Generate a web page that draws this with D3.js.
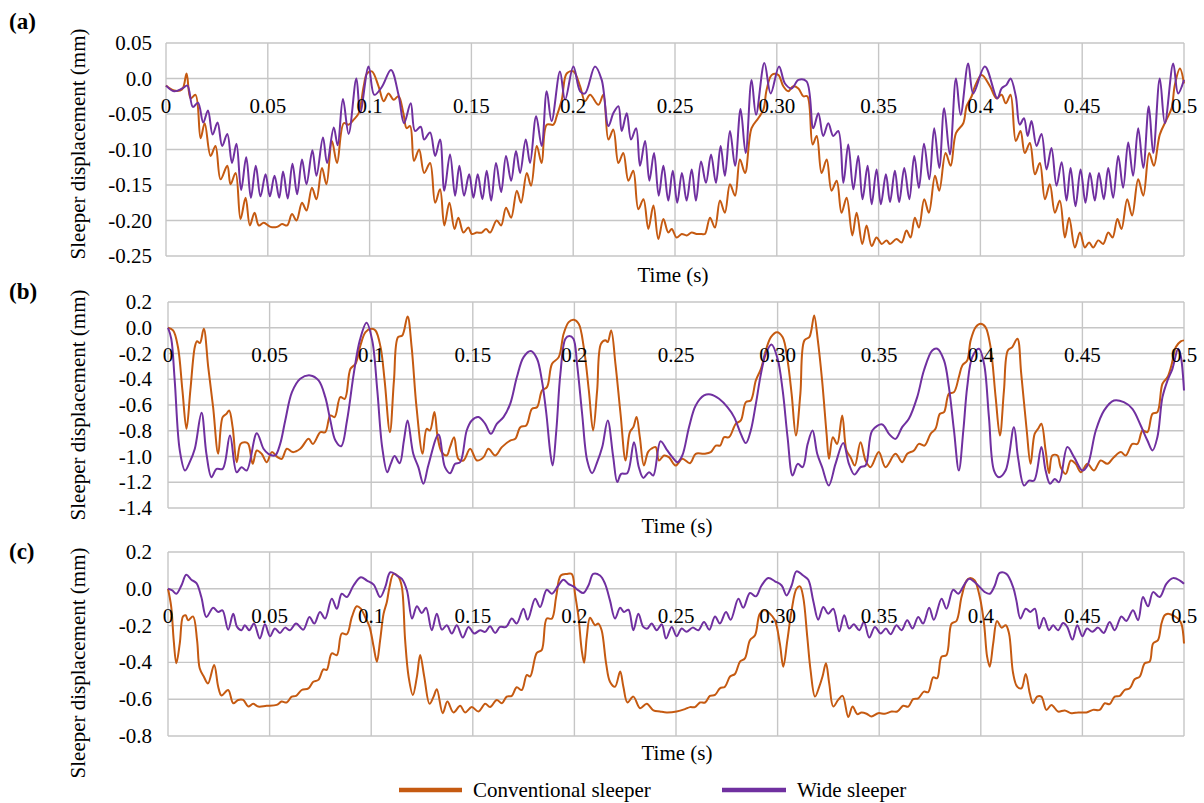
<!DOCTYPE html>
<html>
<head>
<meta charset="utf-8">
<script src="https://cdn.jsdelivr.net/npm/d3@7"></script>
<style>
  html, body { margin: 0; padding: 0; background: #ffffff; }
  svg { display: block; }
</style>
</head>
<body>
<svg id="chart" width="1204" height="803"></svg>
<script>
// ---------------- DATA (time in s, displacement in mm) ----------------
const seriesNames = ["Conventional sleeper", "Wide sleeper"];
const xTicks = [0, 0.05, 0.1, 0.15, 0.2, 0.25, 0.3, 0.35, 0.4, 0.45, 0.5];
const xTickLabels = ["0", "0.05", "0.1", "0.15", "0.2", "0.25", "0.30", "0.35", "0.4", "0.45", "0.5"];

const yTicksA = [0.05, 0, -0.05, -0.10, -0.15, -0.20, -0.25];
const yLabelsA = ["0.05", "0.0", "-0.05", "-0.10", "-0.15", "-0.20", "-0.25"];
const yTicksB = [0.2, 0, -0.2, -0.4, -0.6, -0.8, -1.0, -1.2, -1.4];
const yLabelsB = ["0.2", "0.0", "-0.2", "-0.4", "-0.6", "-0.8", "-1.0", "-1.2", "-1.4"];
const yTicksC = [0.2, 0, -0.2, -0.4, -0.6, -0.8];
const yLabelsC = ["0.2", "0.0", "-0.2", "-0.4", "-0.6", "-0.8"];

const convA = [[0,-0.010],[0.004,-0.017],[0.008,-0.015],[0.0101,0.007],[0.0121,-0.028],[0.0145,-0.023],[0.0170,-0.084],[0.0190,-0.063],[0.0219,-0.109],[0.0243,-0.095],[0.0268,-0.142],[0.0301,-0.123],[0.0317,-0.149],[0.0342,-0.133],[0.0366,-0.198],[0.0391,-0.168],[0.0412,-0.207],[0.0435,-0.189],[0.0456,-0.207],[0.0480,-0.203],[0.0513,-0.209],[0.0546,-0.209],[0.0570,-0.205],[0.0595,-0.207],[0.0619,-0.191],[0.0641,-0.200],[0.0668,-0.175],[0.0690,-0.186],[0.0717,-0.154],[0.0739,-0.170],[0.0766,-0.126],[0.0788,-0.149],[0.0815,-0.088],[0.0840,-0.119],[0.0873,-0.063],[0.0897,-0.065],[0.0922,-0.058],[0.0946,-0.049],[0.0971,-0.011],[0.0987,0.007],[0.1011,0.010],[0.1044,-0.011],[0.1069,-0.032],[0.1093,-0.021],[0.1118,-0.030],[0.1142,-0.025],
[0.1166,-0.049],[0.1182,-0.070],[0.1199,-0.067],[0.1218,-0.116],[0.1243,-0.100],[0.1268,-0.133],[0.1297,-0.119],[0.1322,-0.175],[0.1346,-0.156],[0.1367,-0.207],[0.1392,-0.175],[0.1417,-0.212],[0.1436,-0.196],[0.1461,-0.217],[0.1485,-0.210],[0.1502,-0.219],[0.1526,-0.217],[0.1551,-0.217],[0.1572,-0.212],[0.1592,-0.217],[0.1624,-0.200],[0.1646,-0.207],[0.1670,-0.182],[0.1695,-0.196],[0.1723,-0.158],[0.1744,-0.175],[0.1772,-0.133],[0.1793,-0.151],[0.1821,-0.095],[0.1845,-0.119],[0.1870,-0.065],[0.1903,-0.065],[0.1919,-0.053],[0.1944,-0.030],[0.1968,0.007],[0.2001,0.010],[0.2034,-0.011],[0.2058,-0.032],[0.2083,-0.023],[0.2124,-0.037],[0.2148,-0.023],[0.2173,-0.086],[0.2197,-0.072],[0.2222,-0.119],[0.2246,-0.105],[0.2271,-0.144],[0.2295,-0.130],[0.2320,-0.184],[0.2345,-0.170],[0.2369,-0.212],[0.2394,-0.179],[0.2418,-0.226],[0.2443,-0.198],[0.2467,-0.217],[0.2484,-0.212],[0.2508,-0.224],[0.2533,-0.219],[0.2557,-0.221],[0.2582,-0.217],[0.2606,-0.219],[0.2631,-0.219],[0.2647,-0.219],[0.2672,-0.196],[0.2696,-0.210],[0.2721,-0.172],[0.2745,-0.189],[0.2770,-0.149],[0.2795,-0.165],[0.2819,-0.114],[0.2844,-0.133],[0.2876,-0.070],[0.2909,-0.056],[0.2934,-0.044],[0.2950,-0.016],[0.2975,0.005],[0.3007,0.005],[0.3032,-0.011],[0.3056,-0.018],[0.3081,-0.011],[0.3106,-0.014],[0.3130,-0.025],[0.3150,-0.025],
[0.3176,-0.093],[0.3196,-0.081],[0.3220,-0.133],[0.3245,-0.114],[0.3269,-0.158],[0.3294,-0.144],[0.3318,-0.189],[0.3343,-0.168],[0.3371,-0.221],[0.3392,-0.189],[0.3420,-0.233],[0.3441,-0.207],[0.3466,-0.236],[0.3490,-0.224],[0.3515,-0.233],[0.3539,-0.228],[0.3556,-0.233],[0.3588,-0.226],[0.3613,-0.231],[0.3637,-0.214],[0.3657,-0.224],[0.3678,-0.196],[0.3698,-0.210],[0.3724,-0.170],[0.3747,-0.189],[0.3777,-0.137],[0.3798,-0.158],[0.3829,-0.105],[0.3854,-0.123],[0.3880,-0.077],[0.3916,-0.063],[0.3932,-0.039],[0.3957,-0.025],[0.3973,-0.011],[0.4006,0.005],[0.4047,-0.011],[0.4079,-0.028],[0.4104,-0.023],[0.4125,-0.035],[0.4148,-0.023],[0.4174,-0.088],[0.4197,-0.074],[0.4218,-0.105],[0.4243,-0.091],[0.4268,-0.135],[0.4292,-0.119],[0.4317,-0.170],[0.4341,-0.149],[0.4366,-0.189],[0.4390,-0.172],[0.4415,-0.224],[0.4436,-0.196],[0.4464,-0.238],[0.4489,-0.217],[0.4513,-0.238],[0.4534,-0.231],[0.4554,-0.238],[0.4579,-0.228],[0.4603,-0.233],[0.4628,-0.217],[0.4649,-0.224],[0.4673,-0.198],[0.4693,-0.212],[0.4721,-0.170],[0.4745,-0.193],[0.4775,-0.142],[0.4800,-0.165],[0.4829,-0.105],[0.4852,-0.123],[0.4881,-0.079],[0.4914,-0.058],[0.4939,-0.042],[0.4955,-0.009],[0.4980,0.014],[0.5,-0.007]];

const wideA = [[0,-0.010],[0.004,-0.018],[0.008,-0.014],[0.0105,-0.010],[0.0132,-0.040],[0.0157,-0.034],[0.0183,-0.062],[0.0206,-0.045],[0.0229,-0.079],[0.0253,-0.062],[0.0276,-0.095],[0.0301,-0.078],[0.0324,-0.119],[0.0346,-0.092],[0.0369,-0.157],[0.0394,-0.111],[0.0417,-0.168],[0.0441,-0.123],[0.0464,-0.166],[0.0489,-0.135],[0.0510,-0.166],[0.0533,-0.137],[0.0556,-0.168],[0.0575,-0.131],[0.0598,-0.169],[0.0621,-0.120],[0.0644,-0.163],[0.0668,-0.114],[0.0690,-0.149],[0.0719,-0.101],[0.0739,-0.137],[0.0771,-0.083],[0.0791,-0.119],[0.0824,-0.069],[0.0843,-0.094],[0.0869,-0.029],[0.0897,-0.078],[0.0935,0.000],[0.0954,-0.048],[0.0995,0.017],[0.1023,-0.023],[0.106,-0.012],[0.1105,0.012],[0.1142,-0.023],
[0.1169,-0.063],[0.1202,-0.035],[0.1223,-0.074],[0.1251,-0.068],[0.1268,-0.086],[0.1297,-0.076],[0.1322,-0.109],[0.1346,-0.086],[0.1367,-0.158],[0.1395,-0.107],[0.1420,-0.165],[0.1441,-0.123],[0.1464,-0.165],[0.1489,-0.135],[0.1510,-0.168],[0.1531,-0.135],[0.1554,-0.170],[0.1575,-0.130],[0.1597,-0.172],[0.1621,-0.119],[0.1646,-0.160],[0.1670,-0.109],[0.1695,-0.144],[0.1719,-0.102],[0.1739,-0.133],[0.1767,-0.086],[0.1788,-0.119],[0.1818,-0.053],[0.1845,-0.095],[0.1870,-0.018],[0.1894,-0.060],[0.1935,0.010],[0.1960,-0.030],[0.2001,0.017],[0.2034,-0.018],[0.2058,-0.021],[0.2107,0.017],[0.2140,-0.002],[0.2173,-0.067],[0.2197,-0.049],[0.2222,-0.039],[0.2238,-0.074],[0.2263,-0.049],[0.2284,-0.086],[0.2309,-0.070],[0.2328,-0.123],[0.2353,-0.088],[0.2374,-0.144],[0.2397,-0.105],[0.2420,-0.165],[0.2443,-0.123],[0.2467,-0.172],[0.2489,-0.130],[0.2511,-0.175],[0.2534,-0.133],[0.2557,-0.172],[0.2582,-0.128],[0.2603,-0.172],[0.2628,-0.117],[0.2652,-0.147],[0.2677,-0.107],[0.2701,-0.147],[0.2724,-0.095],[0.2745,-0.137],[0.2770,-0.074],[0.2795,-0.123],[0.2822,-0.043],[0.2847,-0.105],[0.2876,-0.002],[0.2898,-0.051],[0.2939,0.022],[0.2970,-0.021],[0.3011,0.017],[0.3040,-0.007],[0.3073,-0.014],[0.3106,-0.002],[0.3146,-0.004],
[0.3179,-0.070],[0.3204,-0.049],[0.3228,-0.081],[0.3253,-0.063],[0.3277,-0.081],[0.3302,-0.074],[0.3327,-0.147],[0.3351,-0.093],[0.3376,-0.156],[0.3400,-0.109],[0.3421,-0.170],[0.3446,-0.123],[0.3466,-0.177],[0.3490,-0.128],[0.3511,-0.177],[0.3536,-0.135],[0.3556,-0.174],[0.3580,-0.130],[0.3601,-0.174],[0.3626,-0.126],[0.3651,-0.170],[0.3675,-0.109],[0.3698,-0.154],[0.3723,-0.092],[0.3749,-0.142],[0.3773,-0.070],[0.3798,-0.126],[0.3822,-0.042],[0.3850,-0.107],[0.3880,0.000],[0.3903,-0.051],[0.3940,0.021],[0.3965,-0.021],[0.4022,0.017],[0.4083,-0.028],[0.4104,-0.014],[0.4128,-0.009],[0.4148,0.000],[0.4174,-0.025],[0.4193,-0.065],[0.4214,-0.056],[0.4232,-0.081],[0.4251,-0.060],[0.4276,-0.095],[0.4300,-0.078],[0.4325,-0.128],[0.4349,-0.098],[0.4374,-0.151],[0.4399,-0.118],[0.4423,-0.172],[0.4443,-0.126],[0.4467,-0.180],[0.4492,-0.128],[0.4516,-0.175],[0.4538,-0.133],[0.4562,-0.172],[0.4582,-0.133],[0.4606,-0.170],[0.4628,-0.126],[0.4652,-0.168],[0.4677,-0.109],[0.4701,-0.154],[0.4726,-0.090],[0.4750,-0.137],[0.4775,-0.070],[0.4800,-0.126],[0.4827,-0.039],[0.4849,-0.105],[0.4881,0.000],[0.4906,-0.063],[0.4947,0.021],[0.4971,-0.021],[0.5,-0.002]];

const convB = [[0,0.0],[0.0025,-0.02],[0.0049,-0.15],[0.0071,-0.487],[0.0091,-0.785],[0.0110,-0.487],[0.0132,-0.15],[0.0143,-0.104],[0.0157,-0.119],[0.0176,-0.008],[0.0198,-0.306],[0.0222,-0.617],[0.0247,-0.979],[0.0269,-0.694],[0.0288,-0.668],[0.0301,-0.642],[0.0318,-0.772],[0.0338,-1.044],[0.0357,-0.902],[0.0379,-0.889],[0.0395,-0.902],[0.0417,-1.057],[0.0437,-0.953],[0.0461,-0.979],[0.0486,-1.044],[0.0511,-0.966],[0.0539,-1.005],[0.0560,-1.018],[0.0585,-0.940],[0.0614,-0.966],[0.0651,-0.940],[0.0692,-0.863],[0.0713,-0.902],[0.0750,-0.811],[0.0774,-0.811],[0.0799,-0.681],[0.0820,-0.694],[0.0848,-0.539],[0.0870,-0.552],[0.0898,-0.319],[0.0923,-0.280],[0.0947,-0.137],[0.0972,-0.034],[0.1000,-0.008],[0.1021,-0.021],[0.1046,-0.150],[0.1066,-0.409],[0.1092,-0.811],[0.1112,-0.409],[0.1132,-0.073],[0.1153,-0.060],[0.1179,0.088],
[0.1199,-0.150],[0.1223,-0.617],[0.1253,-0.979],[0.1273,-0.785],[0.1289,-0.798],[0.1311,-0.655],[0.1327,-0.850],[0.1347,-0.966],[0.1372,-0.992],[0.1388,-0.927],[0.1408,-0.850],[0.1429,-1.018],[0.1454,-1.031],[0.1487,-0.940],[0.1520,-1.031],[0.1553,-1.005],[0.1577,-0.940],[0.1610,-0.992],[0.1643,-0.927],[0.1684,-0.876],[0.1709,-0.863],[0.1734,-0.772],[0.1763,-0.759],[0.1791,-0.630],[0.1816,-0.617],[0.1841,-0.487],[0.1865,-0.461],[0.1890,-0.280],[0.1923,-0.228],[0.1947,-0.047],[0.1972,0.044],[0.1997,0.062],[0.2021,0.031],[0.2046,-0.150],[0.2071,-0.487],[0.2092,-0.798],[0.2112,-0.487],[0.2131,-0.124],[0.2153,-0.098],[0.2164,-0.111],[0.2181,-0.021],[0.2202,-0.280],[0.2227,-0.668],[0.2252,-1.031],[0.2273,-0.811],[0.2290,-0.772],[0.2306,-0.694],[0.2322,-0.850],[0.2342,-1.070],[0.2362,-0.966],[0.2378,-0.940],[0.2400,-0.927],[0.2416,-1.031],[0.2441,-0.992],[0.2465,-1.005],[0.2498,-1.070],[0.2531,-1.018],[0.2569,-1.052],[0.2597,-0.979],[0.2638,-0.979],[0.2671,-0.966],[0.2696,-0.915],[0.2717,-0.915],[0.2737,-0.850],[0.2761,-0.850],[0.2794,-0.746],[0.2819,-0.720],[0.2844,-0.578],[0.2868,-0.565],[0.2893,-0.409],[0.2918,-0.319],[0.2942,-0.176],[0.2967,-0.073],[0.2997,-0.034],[0.3025,-0.073],[0.3049,-0.254],[0.3069,-0.513],[0.3090,-0.837],[0.3112,-0.513],[0.3132,-0.098],[0.3156,-0.073],[0.3166,-0.020],[0.3180,0.096],
[0.3198,-0.098],[0.3219,-0.409],[0.3241,-0.824],[0.3253,-1.018],[0.3272,-0.850],[0.3293,-0.902],[0.3318,-0.681],[0.3339,-0.953],[0.3359,-1.005],[0.3380,-1.070],[0.3408,-0.889],[0.3433,-1.031],[0.3457,-1.083],[0.3498,-0.966],[0.3531,-1.083],[0.3580,-0.979],[0.3613,-1.044],[0.3638,-0.979],[0.3671,-0.953],[0.3695,-0.902],[0.3723,-0.915],[0.3753,-0.824],[0.3777,-0.785],[0.3799,-0.668],[0.3819,-0.655],[0.3843,-0.513],[0.3868,-0.500],[0.3892,-0.383],[0.3909,-0.293],[0.3933,-0.254],[0.3950,-0.098],[0.3975,0.005],[0.3999,0.031],[0.4023,0.005],[0.4048,-0.150],[0.4073,-0.539],[0.4094,-0.837],[0.4114,-0.487],[0.4133,-0.176],[0.4155,-0.150],[0.4180,-0.085],[0.4199,-0.358],[0.4226,-0.798],[0.4245,-1.057],[0.4265,-0.824],[0.4282,-0.785],[0.4298,-0.746],[0.4319,-0.953],[0.4336,-1.130],[0.4352,-0.992],[0.4377,-0.992],[0.4393,-1.083],[0.4418,-1.135],[0.4443,-1.031],[0.4467,-1.057],[0.4492,-1.122],[0.4525,-1.057],[0.4557,-1.109],[0.4590,-1.031],[0.4623,-1.057],[0.4655,-1.005],[0.4689,-0.966],[0.4713,-0.992],[0.4746,-0.902],[0.4771,-0.902],[0.4796,-0.798],[0.4820,-0.811],[0.4845,-0.668],[0.4869,-0.655],[0.4894,-0.435],[0.4919,-0.383],[0.4938,-0.293],[0.4960,-0.150],[0.4984,-0.106],[0.5,-0.098]];

const wideB = [[0,0],[0.0016,-0.085],[0.0033,-0.409],[0.0058,-0.953],[0.0084,-1.109],[0.0107,-1.044],[0.0132,-0.940],[0.0165,-0.661],[0.0189,-0.979],[0.0214,-1.161],[0.0239,-1.096],[0.0269,-1.096],[0.0305,-0.837],[0.0338,-1.122],[0.0362,-1.083],[0.0387,-1.109],[0.0437,-0.819],[0.0470,-0.940],[0.0494,-0.979],[0.0527,-0.992],[0.0552,-0.902],[0.0577,-0.720],[0.0610,-0.500],[0.0651,-0.396],[0.0700,-0.370],[0.0741,-0.409],[0.0774,-0.539],[0.0799,-0.720],[0.0824,-0.876],[0.0852,-0.920],[0.0881,-0.720],[0.0914,-0.358],[0.0944,-0.098],[0.0977,0.039],[0.1005,-0.098],[0.1030,-0.487],[0.1054,-0.927],[0.1079,-1.122],[0.1096,-1.057],[0.1115,-0.997],[0.1140,-1.052],[0.1161,-0.876],[0.1179,-0.720],
[0.1207,-0.979],[0.1232,-1.083],[0.1257,-1.212],[0.1281,-1.070],[0.1331,-0.829],[0.1363,-1.083],[0.1388,-1.130],[0.1413,-1.057],[0.1438,-1.044],[0.1470,-0.798],[0.1495,-0.720],[0.1528,-0.694],[0.1561,-0.746],[0.1589,-0.824],[0.1618,-0.746],[0.1651,-0.694],[0.1684,-0.591],[0.1717,-0.383],[0.1750,-0.228],[0.1786,-0.181],[0.1816,-0.241],[0.1840,-0.409],[0.1862,-0.668],[0.1882,-0.979],[0.1893,-1.070],[0.1911,-0.798],[0.1931,-0.358],[0.1956,-0.085],[0.1975,-0.065],[0.1995,-0.085],[0.2013,-0.280],[0.2038,-0.668],[0.2063,-1.031],[0.2087,-1.130],[0.2112,-1.044],[0.2137,-0.927],[0.2164,-0.720],[0.2191,-1.005],[0.2211,-1.199],[0.2230,-1.135],[0.2260,-1.130],[0.2293,-0.889],[0.2317,-1.083],[0.2339,-1.166],[0.2367,-1.122],[0.2388,-1.148],[0.2424,-0.881],[0.2457,-0.953],[0.2482,-1.005],[0.2507,-1.044],[0.2531,-0.992],[0.2564,-0.772],[0.2597,-0.604],[0.2638,-0.526],[0.2671,-0.518],[0.2712,-0.552],[0.2753,-0.617],[0.2786,-0.694],[0.2819,-0.824],[0.2844,-0.896],[0.2868,-0.798],[0.2893,-0.591],[0.2918,-0.358],[0.2942,-0.202],[0.2970,-0.130],[0.3000,-0.241],[0.3025,-0.487],[0.3049,-0.850],[0.3074,-1.148],[0.3099,-1.057],[0.3123,-1.083],[0.3148,-0.902],[0.3172,-0.798],
[0.3195,-0.979],[0.3219,-1.083],[0.3252,-1.225],[0.3285,-1.057],[0.3323,-0.896],[0.3351,-1.057],[0.3378,-1.140],[0.3408,-1.083],[0.3433,-1.070],[0.3466,-0.798],[0.3515,-0.751],[0.3548,-0.824],[0.3580,-0.863],[0.3613,-0.772],[0.3646,-0.707],[0.3687,-0.539],[0.3720,-0.332],[0.3761,-0.176],[0.3786,-0.163],[0.3819,-0.254],[0.3843,-0.461],[0.3868,-0.798],[0.3892,-1.109],[0.3914,-0.798],[0.3933,-0.461],[0.3958,-0.228],[0.3991,-0.163],[0.4016,-0.280],[0.4040,-0.694],[0.4065,-1.109],[0.4089,-1.161],[0.4122,-1.109],[0.4163,-0.772],[0.4183,-1.005],[0.4213,-1.225],[0.4237,-1.187],[0.4262,-1.187],[0.4298,-0.927],[0.4319,-1.109],[0.4341,-1.212],[0.4364,-1.174],[0.4385,-1.199],[0.4426,-0.927],[0.4459,-1.005],[0.4500,-1.109],[0.4525,-1.070],[0.4566,-0.798],[0.4607,-0.642],[0.4655,-0.565],[0.4704,-0.578],[0.4746,-0.630],[0.4787,-0.759],[0.4820,-0.876],[0.4845,-0.953],[0.4869,-0.850],[0.4894,-0.539],[0.4919,-0.409],[0.4943,-0.319],[0.4971,-0.163],[0.4984,-0.220],[0.5,-0.487]];

const convC = [[0,0],[0.0016,-0.099],[0.0028,-0.279],[0.0041,-0.405],[0.0058,-0.297],[0.0074,-0.150],[0.0087,-0.144],[0.0099,-0.171],[0.0123,-0.150],[0.0143,-0.279],[0.0156,-0.432],[0.0176,-0.477],[0.0197,-0.514],[0.0227,-0.414],[0.0247,-0.532],[0.0263,-0.580],[0.0296,-0.550],[0.0321,-0.622],[0.0345,-0.604],[0.0370,-0.604],[0.0395,-0.640],[0.0419,-0.625],[0.0444,-0.640],[0.0485,-0.636],[0.0535,-0.631],[0.0559,-0.613],[0.0584,-0.618],[0.0609,-0.586],[0.0630,-0.582],[0.0658,-0.550],[0.0691,-0.541],[0.0715,-0.505],[0.0740,-0.495],[0.0765,-0.438],[0.0781,-0.441],[0.0806,-0.351],[0.0831,-0.360],[0.0855,-0.243],[0.0880,-0.247],[0.0905,-0.153],[0.0929,-0.095],[0.0949,-0.108],[0.0970,-0.153],[0.0992,-0.207],[0.1012,-0.315],[0.1028,-0.396],[0.1044,-0.279],[0.1061,-0.135],[0.1077,-0.072],[0.1090,0.009],[0.1110,0.081],[0.1135,0.063],[0.1151,0.009],[0.1167,-0.279],[0.1184,-0.477],[0.1205,-0.577],[0.1225,-0.477],[0.1241,-0.360],[0.1261,-0.477],[0.1287,-0.625],[0.1307,-0.586],[0.1323,-0.546],[0.1352,-0.676],[0.1375,-0.613],[0.1405,-0.672],[0.1438,-0.636],[0.1462,-0.672],[0.1495,-0.643],[0.1528,-0.667],[0.1561,-0.625],[0.1585,-0.643],[0.1618,-0.604],[0.1643,-0.622],[0.1667,-0.586],[0.1692,-0.582],[0.1716,-0.535],[0.1741,-0.550],[0.1766,-0.468],[0.1782,-0.477],[0.1815,-0.348],[0.1839,-0.333],[0.1864,-0.162],[0.1889,-0.162],[0.1910,-0.045],[0.1933,0.072],[0.1962,0.081],[0.1987,0.081],[0.2003,-0.027],[0.2020,-0.153],[0.2036,-0.333],[0.2048,-0.402],[0.2061,-0.261],[0.2077,-0.157],[0.2102,-0.198],[0.2118,-0.189],[0.2134,-0.225],[0.2156,-0.405],[0.2175,-0.505],[0.2200,-0.532],[0.2225,-0.450],[0.2241,-0.532],[0.2261,-0.618],[0.2290,-0.586],[0.2323,-0.649],[0.2356,-0.625],[0.2389,-0.661],[0.2421,-0.667],[0.2454,-0.672],[0.2503,-0.667],[0.2544,-0.654],[0.2569,-0.643],[0.2593,-0.643],[0.2618,-0.618],[0.2643,-0.618],[0.2667,-0.582],[0.2692,-0.577],[0.2716,-0.541],[0.2741,-0.532],[0.2766,-0.477],[0.2790,-0.463],[0.2815,-0.396],[0.2839,-0.378],[0.2864,-0.279],[0.2889,-0.252],[0.2913,-0.135],[0.2938,-0.117],[0.2962,-0.135],[0.2987,-0.171],[0.3011,-0.297],[0.3028,-0.423],[0.3048,-0.279],[0.3069,-0.117],[0.3093,0.000],[0.3110,0.013],[0.3126,-0.045],[0.3146,-0.261],[0.3162,-0.441],[0.3184,-0.586],[0.3205,-0.532],[0.3221,-0.477],[0.3238,-0.405],[0.3254,-0.514],[0.3274,-0.640],[0.3298,-0.604],[0.3320,-0.582],[0.3348,-0.697],[0.3369,-0.640],[0.3392,-0.681],[0.3413,-0.672],[0.3438,-0.679],[0.3462,-0.694],[0.3495,-0.676],[0.3528,-0.679],[0.3561,-0.667],[0.3589,-0.667],[0.3618,-0.636],[0.3643,-0.640],[0.3667,-0.600],[0.3692,-0.595],[0.3720,-0.559],[0.3741,-0.562],[0.3766,-0.481],[0.3785,-0.486],[0.3807,-0.369],[0.3831,-0.360],[0.3856,-0.189],[0.3880,-0.175],[0.3905,-0.045],[0.3930,0.045],[0.3946,0.058],[0.3970,0.045],[0.3995,-0.045],[0.4016,-0.189],[0.4031,-0.369],[0.4044,-0.423],[0.4061,-0.297],[0.4080,-0.175],[0.4102,-0.211],[0.4123,-0.198],[0.4139,-0.243],[0.4159,-0.459],[0.4179,-0.532],[0.4200,-0.541],[0.4221,-0.463],[0.4241,-0.568],[0.4257,-0.622],[0.4277,-0.586],[0.4298,-0.586],[0.4323,-0.658],[0.4348,-0.631],[0.4380,-0.667],[0.4413,-0.661],[0.4446,-0.676],[0.4479,-0.672],[0.4520,-0.672],[0.4552,-0.658],[0.4585,-0.658],[0.4610,-0.622],[0.4634,-0.627],[0.4659,-0.586],[0.4684,-0.582],[0.4708,-0.550],[0.4733,-0.541],[0.4757,-0.492],[0.4782,-0.477],[0.4807,-0.405],[0.4831,-0.396],[0.4848,-0.297],[0.4872,-0.279],[0.4889,-0.189],[0.4905,-0.144],[0.4921,-0.135],[0.4946,-0.144],[0.4970,-0.162],[0.4987,-0.189],[0.5,-0.297]];

const wideC = [[0,0],[0.0021,-0.009],[0.0041,-0.027],[0.0066,0.018],[0.0090,0.076],[0.0115,0.049],[0.0140,0.031],[0.0164,-0.045],[0.0189,-0.153],[0.0222,-0.103],[0.0247,-0.126],[0.0268,-0.117],[0.0296,-0.222],[0.0321,-0.135],[0.0340,-0.207],[0.0362,-0.225],[0.0378,-0.198],[0.0400,-0.225],[0.0423,-0.189],[0.0452,-0.270],[0.0477,-0.193],[0.0502,-0.258],[0.0526,-0.216],[0.0551,-0.240],[0.0576,-0.211],[0.0600,-0.225],[0.0630,-0.189],[0.0666,-0.222],[0.0696,-0.153],[0.0720,-0.189],[0.0748,-0.126],[0.0773,-0.162],[0.0806,-0.054],[0.0831,-0.108],[0.0855,-0.027],[0.0880,-0.045],[0.0913,0.018],[0.0949,0.063],[0.0979,0.045],[0.1012,0.023],[0.1044,-0.045],[0.1069,0.009],[0.1094,0.090],[0.1127,0.072],[0.1151,0.054],[0.1176,-0.009],[0.1201,-0.162],[0.1225,-0.095],[0.1249,-0.132],[0.1270,-0.103],[0.1298,-0.225],[0.1323,-0.135],[0.1348,-0.222],[0.1372,-0.198],[0.1397,-0.243],[0.1421,-0.198],[0.1451,-0.265],[0.1479,-0.207],[0.1507,-0.243],[0.1536,-0.225],[0.1561,-0.234],[0.1585,-0.204],[0.1610,-0.240],[0.1634,-0.207],[0.1664,-0.207],[0.1692,-0.162],[0.1716,-0.189],[0.1749,-0.108],[0.1770,-0.168],[0.1807,-0.054],[0.1831,-0.099],[0.1864,-0.005],[0.1889,-0.027],[0.1921,0.018],[0.1946,0.049],[0.1970,0.027],[0.1995,0.013],[0.2020,-0.009],[0.2044,-0.023],[0.2069,0.018],[0.2093,0.081],[0.2126,0.072],[0.2151,0.027],[0.2175,-0.063],[0.2200,-0.162],[0.2225,-0.103],[0.2244,-0.126],[0.2266,-0.114],[0.2290,-0.225],[0.2315,-0.135],[0.2339,-0.207],[0.2359,-0.216],[0.2380,-0.189],[0.2405,-0.225],[0.2430,-0.193],[0.2451,-0.270],[0.2479,-0.207],[0.2503,-0.258],[0.2528,-0.216],[0.2552,-0.234],[0.2582,-0.211],[0.2610,-0.225],[0.2638,-0.180],[0.2664,-0.222],[0.2692,-0.150],[0.2716,-0.189],[0.2746,-0.126],[0.2769,-0.168],[0.2807,-0.054],[0.2831,-0.103],[0.2864,-0.023],[0.2893,-0.041],[0.2921,0.018],[0.2954,0.059],[0.2987,0.041],[0.3020,0.018],[0.3044,-0.036],[0.3069,0.018],[0.3093,0.095],[0.3126,0.072],[0.3151,0.049],[0.3175,-0.063],[0.3200,-0.168],[0.3225,-0.099],[0.3249,-0.135],[0.3274,-0.108],[0.3303,-0.231],[0.3328,-0.144],[0.3352,-0.216],[0.3375,-0.193],[0.3402,-0.225],[0.3425,-0.180],[0.3451,-0.265],[0.3479,-0.207],[0.3507,-0.243],[0.3533,-0.216],[0.3556,-0.247],[0.3585,-0.198],[0.3610,-0.225],[0.3638,-0.171],[0.3664,-0.216],[0.3692,-0.153],[0.3716,-0.189],[0.3746,-0.103],[0.3769,-0.168],[0.3807,-0.054],[0.3831,-0.108],[0.3864,-0.005],[0.3889,-0.027],[0.3921,0.027],[0.3943,0.054],[0.3970,0.036],[0.3995,0.009],[0.4020,-0.018],[0.4044,-0.027],[0.4069,0.018],[0.4093,0.086],[0.4126,0.081],[0.4159,0.009],[0.4175,-0.063],[0.4195,-0.162],[0.4221,-0.108],[0.4244,-0.126],[0.4266,-0.108],[0.4287,-0.216],[0.4310,-0.157],[0.4336,-0.225],[0.4356,-0.198],[0.4380,-0.225],[0.4405,-0.186],[0.4425,-0.207],[0.4451,-0.276],[0.4475,-0.198],[0.4500,-0.258],[0.4523,-0.216],[0.4549,-0.234],[0.4577,-0.211],[0.4605,-0.240],[0.4634,-0.180],[0.4659,-0.225],[0.4692,-0.150],[0.4716,-0.175],[0.4749,-0.117],[0.4774,-0.171],[0.4798,-0.045],[0.4823,-0.095],[0.4848,-0.018],[0.4880,-0.045],[0.4913,0.027],[0.4946,0.058],[0.4980,0.045],[0.5,0.027]];

// ---------------- LAYOUT / STYLE ----------------
const colors = ["#C55A11", "#7030A0"];
const gridColor = "#c6c6c6";
const FONT = 21;
const FAMILY = "'Liberation Serif', 'Times New Roman', Times, 'DejaVu Serif', serif";

const panels = [
  { label: "(a)", conv: convA, wide: wideA, yTicks: yTicksA, yLabels: yLabelsA,
    left: 166, right: 1184, top: 43, bottom: 256, labelY: 29, titleY: 144, timeX: 673, timeY: 282 },
  { label: "(b)", conv: convB, wide: wideB, yTicks: yTicksB, yLabels: yLabelsB,
    left: 168, right: 1184, top: 302, bottom: 508, labelY: 299, titleY: 405, timeX: 677, timeY: 533 },
  { label: "(c)", conv: convC, wide: wideC, yTicks: yTicksC, yLabels: yLabelsC,
    left: 168, right: 1184, top: 552, bottom: 736, labelY: 559, titleY: 663, timeX: 677, timeY: 760 }
];

const svg = d3.select("#chart");
svg.append("rect").attr("width", 1204).attr("height", 803).attr("fill", "#fff");

function txt(sel) {
  return sel.attr("font-family", FAMILY).attr("fill", "#000");
}

panels.forEach(p => {
  const x = d3.scaleLinear().domain([0, 0.5]).range([p.left, p.right]);
  const y = d3.scaleLinear().domain([d3.min(p.yTicks), d3.max(p.yTicks)]).range([p.bottom, p.top]);
  const g = svg.append("g");

  g.selectAll(".hg").data(p.yTicks).enter().append("line")
    .attr("x1", p.left).attr("x2", p.right)
    .attr("y1", d => y(d)).attr("y2", d => y(d))
    .attr("stroke", gridColor).attr("stroke-width", 1.4);
  g.selectAll(".vg").data(xTicks).enter().append("line")
    .attr("x1", d => x(d)).attr("x2", d => x(d))
    .attr("y1", p.top).attr("y2", p.bottom)
    .attr("stroke", gridColor).attr("stroke-width", 1.4);

  txt(g.selectAll(".yl").data(p.yTicks).enter().append("text"))
    .attr("x", 152).attr("y", d => y(d) + 7)
    .attr("text-anchor", "end").attr("font-size", FONT)
    .text((d, i) => p.yLabels[i]);

  const line = d3.line().x(d => x(d[0])).y(d => y(d[1])).curve(d3.curveCatmullRom.alpha(0.5));
  [p.conv, p.wide].forEach((s, i) => {
    g.append("path").datum(s).attr("d", line)
      .attr("fill", "none").attr("stroke", colors[i]).attr("stroke-width", 2)
      .attr("stroke-linejoin", "round");
  });

  txt(g.selectAll(".xl").data(xTicks).enter().append("text"))
    .attr("x", d => x(d)).attr("y", y(0) + 34)
    .attr("text-anchor", "middle").attr("font-size", FONT)
    .text((d, i) => xTickLabels[i]);

  txt(g.append("text")).attr("x", p.timeX).attr("y", p.timeY)
    .attr("text-anchor", "middle").attr("font-size", FONT).text("Time (s)");
  txt(g.append("text"))
    .attr("transform", `translate(85,${p.titleY}) rotate(-90)`)
    .attr("text-anchor", "middle").attr("font-size", FONT)
    .text("Sleeper displacement (mm)");

  txt(g.append("text")).attr("x", 9).attr("y", p.labelY)
    .attr("font-size", 23).attr("font-weight", "bold").text(p.label);
});

const legend = svg.append("g");
const legendItems = [
  { x1: 399, x2: 462, tx: 473 },
  { x1: 722, x2: 786, tx: 797 }
];
legendItems.forEach((l, i) => {
  legend.append("line").attr("x1", l.x1).attr("x2", l.x2).attr("y1", 790).attr("y2", 790)
    .attr("stroke", colors[i]).attr("stroke-width", 4.5);
  txt(legend.append("text")).attr("x", l.tx).attr("y", 797).attr("font-size", FONT).text(seriesNames[i]);
});
</script>
</body>
</html>
